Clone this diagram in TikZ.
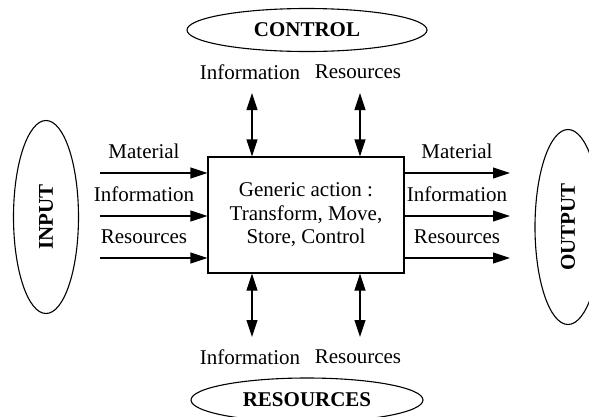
\documentclass[tikz,border=0pt]{standalone}
\usepackage{fontspec}
\setmainfont{Liberation Serif}
\usetikzlibrary{positioning,shapes.geometric,arrows.meta}

\begin{document}
\begin{tikzpicture}[x=1pt,y=-1pt,font=\fontsize{21}{23.5}\selectfont,line width=1.1pt,
  blob/.style={draw,ellipse,inner sep=0pt,font=\fontsize{21}{24}\selectfont\bfseries},
  act/.style={draw,minimum width=196pt,minimum height=116pt,align=center,inner sep=0pt},
  flow/.style={-{Triangle[length=17pt,width=11pt]}},
  both/.style={{Triangle[length=17pt,width=11pt]}-{Triangle[length=17pt,width=11pt]}},
  lab/.style={inner sep=0pt}]
  \clip (0,0) rectangle (589,416);
  \useasboundingbox (0,0) rectangle (589,416);
  % main action box
  \node[act] (act) at (306,215) {Generic action :\\Transform, Move,\\Store, Control};
  % ellipses round it
  \node[blob,rotate=90,minimum width=193pt,minimum height=65pt] (input) at (46,217) {INPUT};
  \node[blob,rotate=90,minimum width=195pt,minimum height=66pt] (output) at (568,227) {OUTPUT};
  \node[blob,minimum width=240pt,minimum height=43pt] (control) at (307,30) {CONTROL};
  \node[blob,minimum width=232pt,minimum height=44pt] (res) at (307,400) {RESOURCES};
  % free ends of the flows
  \coordinate (in1) at (100,173);
  \coordinate (in2) at (100,216);
  \coordinate (in3) at (100,258);
  \coordinate (out1) at (510,173);
  \coordinate (out2) at (510,216);
  \coordinate (out3) at (510,258);
  \coordinate (up1) at (252,93);
  \coordinate (up2) at (360,93);
  \coordinate (dn1) at (252,337);
  \coordinate (dn2) at (360,337);
  % labels
  \node[lab] (inmat) at (144,151) {Material};
  \node[lab] (ininf) at (144,194) {Information};
  \node[lab] (inres) at (144,237) {Resources};
  \node[lab] (outmat) at (457,151) {Material};
  \node[lab] (outinf) at (457,194) {Information};
  \node[lab] (outres) at (457,237) {Resources};
  \node[lab] (upinf) at (250,72) {Information};
  \node[lab] (upres) at (358,72) {Resources};
  \node[lab] (dninf) at (250,357) {Information};
  \node[lab] (dnres) at (358,357) {Resources};
  % flows
  \foreach \i in {1,2,3} {
    \draw[flow] (in\i) -- (in\i -| act.west);
    \draw[flow] (out\i -| act.east) -- (out\i);
  }
  \foreach \i in {1,2} {
    \draw[both] (up\i |- act.north) -- (up\i);
    \draw[both] (dn\i |- act.south) -- (dn\i);
  }
\end{tikzpicture}
\end{document}
